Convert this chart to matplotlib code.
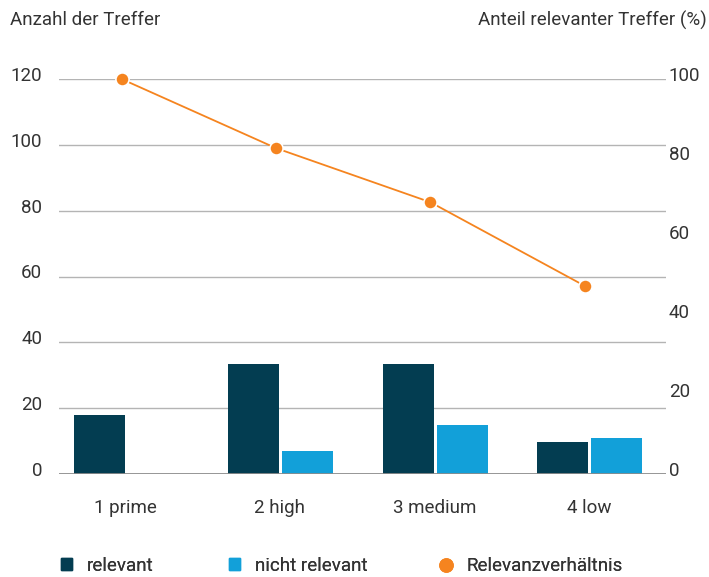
import numpy as np
import matplotlib
matplotlib.use("Agg")
import matplotlib.pyplot as plt
import matplotlib.transforms as mtransforms
from matplotlib.lines import Line2D
from matplotlib.patches import Patch

categories = ["1 prime", "2 high", "3 medium", "4 low"]
relevant = [18, 33.4, 33.4, 9.7]
not_relevant = [0, 7, 15, 10.8]
ratio = [100, 82.5, 68.8, 47.6]

left_ticks = [0, 20, 40, 60, 80, 100, 120]
right_ticks = [0, 20, 40, 60, 80, 100]

DARK = "#033d51"
BLUE = "#12a0d9"
ORANGE = "#f5841f"
TEXT = "#333333"
GRID = "#b4b4b4"
FS = 13.5

plt.rcParams["font.family"] = ["Roboto", "DejaVu Sans"]

fig = plt.figure(figsize=(7.09, 5.77), dpi=100)
ax = fig.add_axes([59 / 709, 1 - 474 / 577, 607 / 709, 395 / 577])
ax2 = ax.twinx()

x = np.arange(len(categories))
w = 0.33
for t in left_ticks[1:]:
    ax.axhline(t, color=GRID, lw=1, zorder=0)
ax.axhline(0, color="#8c8c8c", lw=2, zorder=3)
ax.bar(x - 0.17, relevant, w, color=DARK, zorder=2)
ax.bar(x + 0.18, not_relevant, w, color=BLUE, zorder=2)

# the line sits a little left of the bar groups in the original
ax2.plot(x - 0.025, ratio, color=ORANGE, lw=1.3, marker="o", ms=9.5,
         mfc=ORANGE, mec="white", mew=1.2, clip_on=False, zorder=5)

ax.set_xlim(-0.43, 3.5)
ax.set_ylim(0, 120)
ax2.set_ylim(0, 100 * 120 / 121)

for a in (ax, ax2):
    for s in a.spines.values():
        s.set_visible(False)
    a.tick_params(length=0, colors=TEXT, labelsize=FS)

ax.set_yticks(left_ticks)
ax2.set_yticks(right_ticks)
ax.set_xticks(x, categories)
ax.tick_params(axis="x", pad=18)
ax.tick_params(axis="y", pad=12)
ax2.tick_params(axis="y", pad=2)

shift = mtransforms.ScaledTranslation(0, 5 / 100, fig.dpi_scale_trans)
for lab in ax.get_yticklabels() + ax2.get_yticklabels():
    lab.set_transform(lab.get_transform() + shift)

fig.text(10 / 709, 1 - 20 / 577, "Anzahl der Treffer", ha="left", va="center",
         fontsize=FS, color=TEXT)
fig.text(707 / 709, 1 - 20 / 577, "Anteil relevanter Treffer (%)", ha="right",
         va="center", fontsize=FS, color=TEXT)

handles = [
    Patch(color=DARK, label="relevant"),
    Patch(color=BLUE, label="nicht relevant"),
    Line2D([], [], ls="none", marker="o", ms=9.5, color=ORANGE,
           label="Relevanzverhältnis"),
]
for h, lx in zip(handles, [61, 229, 440]):
    leg = fig.legend(handles=[h], loc="center left", frameon=False,
                     bbox_to_anchor=(lx / 709, 1 - 566 / 577), fontsize=FS,
                     handlelength=0.6, handleheight=0.6, handletextpad=0.8,
                     borderpad=0, borderaxespad=0, labelcolor=TEXT)
    fig.add_artist(leg)

fig.savefig("out.png", dpi=100)
